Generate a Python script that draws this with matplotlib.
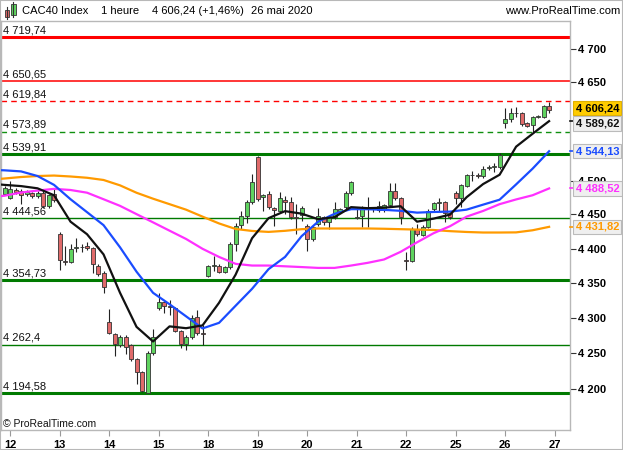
import matplotlib
matplotlib.use("Agg")
import matplotlib.pyplot as plt
from matplotlib.patches import Rectangle
from matplotlib.lines import Line2D
from matplotlib.ticker import NullLocator

plt.rcParams['font.family'] = ['Liberation Sans', 'DejaVu Sans']

W, H = 623, 450

# CAC40, hourly candles, 11 May (last hour) to 26 May 2020
days = ['12', '13', '14', '15', '18', '19', '20', '21', '22', '25', '26', '27']
bars_per_day = 9
first_day_bar = 1

opens = [4479.9, 4474.0, 4485.7, 4484.7, 4481.0, 4481.3, 4476.9, 4481.3, 4462.2, 4481.0,
         4421.0, 4382.0, 4380.8, 4401.5, 4402.5, 4403.8, 4400.4, 4374.3, 4364.6,
         4294.6, 4277.1, 4261.7, 4273.6, 4261.7, 4242.7, 4223.9, 4194.6, 4250.3,
         4314.2, 4322.8, 4317.5, 4314.2, 4281.8, 4263.2, 4273.6, 4301.8, 4279.0,
         4359.6, 4375.0, 4375.4, 4366.1, 4373.5, 4407.3, 4434.7, 4448.0, 4467.7,
         4535.2, 4476.5, 4481.0, 4459.1, 4454.6, 4471.5, 4468.5, 4446.0, 4448.5,
         4433.3, 4413.7, 4435.8, 4445.6, 4438.3, 4445.6, 4455.5, 4460.5, 4481.3,
         4444.6, 4447.1, 4459.0, 4458.0, 4456.5, 4457.0, 4463.9, 4484.7, 4473.6,
         4383.5, 4381.7, 4428.4, 4420.0, 4431.8, 4457.9, 4467.0, 4467.7, 4451.5,
         4482.3, 4474.0, 4492.3, 4508.0, 4509.2, 4506.7, 4519.0, 4521.0, 4519.9,
         4586.4, 4592.9, 4601.5, 4601.5, 4586.4, 4583.8, 4596.0, 4596.3, 4612.9]
highs = [4491.6, 4498.9, 4488.7, 4487.2, 4486.0, 4483.0, 4485.0, 4484.0, 4480.0, 4488.7,
         4424.4, 4403.4, 4406.3, 4415.1, 4406.0, 4409.2, 4402.0, 4377.0, 4367.0,
         4313.2, 4279.0, 4276.0, 4276.0, 4263.0, 4244.0, 4226.0, 4254.0, 4284.6,
         4336.1, 4325.0, 4326.1, 4316.0, 4283.0, 4276.0, 4304.6, 4311.8, 4290.4,
         4376.0, 4389.1, 4378.0, 4375.0, 4410.0, 4437.2, 4454.9, 4472.0, 4510.2,
         4536.3, 4481.0, 4484.3, 4461.0, 4483.9, 4476.9, 4475.5, 4465.2, 4462.0,
         4436.0, 4434.0, 4459.3, 4448.0, 4448.0, 4468.1, 4460.0, 4485.0, 4500.0,
         4460.5, 4462.0, 4475.5, 4461.0, 4470.3, 4466.0, 4496.0, 4497.0, 4476.0,
         4394.5, 4431.0, 4435.8, 4434.0, 4458.0, 4469.1, 4475.0, 4470.0, 4454.0,
         4485.0, 4495.0, 4510.2, 4515.0, 4512.0, 4522.4, 4523.0, 4526.4, 4541.0,
         4609.0, 4610.0, 4611.0, 4603.0, 4588.0, 4598.0, 4599.0, 4614.5, 4618.1]
lows = [4478.4, 4472.5, 4480.0, 4465.2, 4478.0, 4475.0, 4474.0, 4460.0, 4460.0, 4469.0,
        4369.5, 4376.8, 4379.8, 4394.5, 4395.0, 4397.5, 4365.1, 4361.0, 4335.7,
        4277.5, 4246.0, 4259.0, 4248.9, 4240.0, 4207.4, 4196.0, 4194.58, 4248.0,
        4311.8, 4307.5, 4304.6, 4280.0, 4257.5, 4254.6, 4271.0, 4276.0, 4261.7,
        4358.7, 4367.0, 4364.0, 4364.0, 4371.0, 4396.0, 4428.4, 4437.2, 4465.0,
        4470.0, 4455.4, 4458.0, 4433.3, 4452.0, 4450.5, 4443.0, 4421.0, 4440.0,
        4396.4, 4411.0, 4433.0, 4435.0, 4428.4, 4443.0, 4453.0, 4458.0, 4479.0,
        4443.0, 4430.9, 4431.3, 4454.0, 4454.0, 4454.0, 4462.0, 4471.0, 4435.8,
        4369.5, 4380.0, 4419.0, 4418.0, 4430.0, 4455.0, 4454.6, 4438.3, 4443.0,
        4465.2, 4460.5, 4490.0, 4499.0, 4504.0, 4504.0, 4516.0, 4513.0, 4518.0,
        4578.8, 4587.9, 4596.0, 4583.0, 4581.0, 4572.8, 4594.0, 4594.0, 4601.5]
closes = [4489.7, 4487.2, 4482.8, 4478.4, 4483.5, 4477.4, 4482.3, 4462.2, 4478.4, 4471.5,
          4383.2, 4380.5, 4398.9, 4402.5, 4401.9, 4400.4, 4377.9, 4363.1, 4344.3,
          4278.9, 4262.8, 4273.6, 4258.5, 4242.7, 4223.9, 4198.1, 4250.7, 4272.5,
          4322.8, 4316.5, 4315.4, 4281.8, 4263.2, 4273.6, 4299.9, 4278.5, 4278.0,
          4374.3, 4375.6, 4366.1, 4372.9, 4407.3, 4433.3, 4448.0, 4469.1, 4498.5,
          4472.5, 4478.8, 4460.5, 4456.5, 4473.6, 4469.1, 4445.6, 4445.0, 4459.1,
          4413.7, 4430.9, 4447.1, 4438.3, 4445.6, 4457.9, 4457.9, 4482.3, 4497.9,
          4446.0, 4459.1, 4458.0, 4457.5, 4462.4, 4463.9, 4484.7, 4473.6, 4445.6,
          4382.7, 4428.4, 4421.0, 4431.8, 4455.4, 4466.2, 4468.0, 4451.5, 4445.6,
          4474.0, 4493.0, 4508.2, 4509.0, 4506.7, 4518.0, 4520.0, 4521.5, 4538.5,
          4592.9, 4601.5, 4602.0, 4584.8, 4582.7, 4596.3, 4596.8, 4612.9, 4606.24]

# moving averages read every 3 bars
ma_idx = [-1] + list(range(0, 100, 3))
ma_black = [4494.5, 4493.8, 4492.0, 4488.7, 4478.4, 4439.4, 4421.0, 4391.6, 4336.1, 4287.5,
            4266.8, 4288.2, 4285.6, 4289.6, 4321.8, 4362.1, 4415.1, 4444.6, 4454.9, 4451.2,
            4443.1, 4446.1, 4460.8, 4459.3, 4460.0, 4462.2, 4439.4, 4443.9, 4449.8, 4475.5,
            4495.0, 4508.9, 4551.0, 4570.5, 4589.62]
ma_blue = [4515.8, 4515.5, 4513.9, 4507.0, 4493.8, 4472.5, 4453.4, 4434.3, 4401.9, 4366.5,
           4336.1, 4319.7, 4302.5, 4285.3, 4293.2, 4317.5, 4341.8, 4370.2, 4387.9, 4418.1,
           4439.4, 4451.0, 4457.8, 4457.8, 4456.8, 4455.4, 4452.7, 4453.7, 4454.2, 4457.1,
           4464.5, 4471.8, 4494.5, 4518.0, 4544.13]
ma_magenta = [4476.9, 4477.7, 4482.5, 4485.3, 4487.9, 4486.2, 4482.2, 4472.5, 4462.7, 4450.5,
              4438.4, 4426.2, 4414.1, 4399.7, 4387.9, 4377.9, 4375.4, 4375.4, 4374.3, 4373.2,
              4372.0, 4372.0, 4375.4, 4379.3, 4384.2, 4395.3, 4409.2, 4422.5, 4432.8, 4446.8,
              4455.2, 4465.2, 4472.2, 4478.4, 4488.52]
ma_orange = [4502.6, 4503.3, 4505.5, 4507.0, 4507.7, 4506.3, 4504.4, 4501.1, 4493.1, 4482.1,
             4473.3, 4465.2, 4457.1, 4446.8, 4436.8, 4428.7, 4425.8, 4424.4, 4426.0, 4428.4,
             4429.4, 4429.4, 4429.4, 4429.4, 4429.0, 4428.4, 4427.8, 4427.2, 4425.5, 4424.3,
             4423.5, 4423.5, 4423.7, 4426.8, 4431.82]

levels = [4719.74, 4650.65, 4619.84, 4573.89, 4539.91, 4444.56, 4354.73, 4262.4, 4194.58]
level_colors = ['#ff0000', '#ff0000', '#ff0000', '#109010', '#007a00', '#007a00', '#007a00', '#007a00', '#007a00']
level_styles = ['-', '-', (0, (4, 3)), (0, (4, 3)), '-', '-', '-', '-', '-']
level_widths = [2.2, 1.1, 1.0, 1.0, 2.2, 1.0, 2.2, 1.0, 2.2]

# price ticks shown on the right (4550 and 4600 sit under the value boxes)
yticks = [4200, 4250, 4300, 4350, 4400, 4450, 4500, 4650, 4700]

up_col = '#5fd35f'
down_col = '#e06a6a'


def fr(v, strip=False):
    s = f"{v:,.2f}".replace(',', ' ').replace('.', ',')
    if strip and s.endswith('0'):
        s = s[:-1]
    return s


fig = plt.figure(figsize=(W / 100, H / 100), dpi=100)
ax = fig.add_axes([1 / W, 1 - 430 / H, 569 / W, 409 / H])
ax.set_yscale('log')
ax.set_ylim(4143.6, 4744.3)
ax.set_xlim(-0.64, 102.8)

# level lines + left labels
for lv, c, ls, lw in zip(levels, level_colors, level_styles, level_widths):
    ax.axhline(lv, color=c, ls=ls, lw=lw, zorder=2)
    ax.annotate(fr(lv, strip=True), xy=(2 / 569, lv), xycoords=('axes fraction', 'data'),
                xytext=(0, 1.2), textcoords='offset points', ha='left', va='bottom',
                fontsize=8, color='#111111', zorder=2)

# candles
n = len(opens)
xs = list(range(n))
ax.vlines(xs, lows, highs, color='#222222', lw=0.8, zorder=3)
bottoms = [min(o, c) for o, c in zip(opens, closes)]
heights = [max(abs(c - o), 0.4) for o, c in zip(opens, closes)]
cols = [up_col if c >= o else down_col for o, c in zip(opens, closes)]
ax.bar(xs, heights, bottom=bottoms, width=0.72, color=cols, edgecolor='#333333', lw=0.6, zorder=4)

# moving averages
ax.plot(ma_idx, ma_orange, color='#ff9a00', lw=1.6, zorder=5)
ax.plot(ma_idx, ma_magenta, color='#ff30ff', lw=1.6, zorder=5)
ax.plot(ma_idx, ma_blue, color='#1a4cff', lw=1.6, zorder=5)
ax.plot(ma_idx, ma_black, color='#111111', lw=1.6, zorder=5)

# axes styling
for s in ax.spines.values():
    s.set_color('#b8b8b8')
    s.set_linewidth(1.0)

ax.yaxis.tick_right()
ax.set_yticks(yticks)
ax.set_yticklabels([fr(t)[:-3] for t in yticks])
ax.yaxis.set_minor_locator(NullLocator())
ax.tick_params(axis='y', direction='out', length=4, width=0.8, color='#333333', pad=2, labelsize=8)
for t in ax.get_yticklabels():
    t.set_fontweight('bold')

day_pos = [first_day_bar + k * bars_per_day for k in range(len(days))]
ax.set_xticks(day_pos)
ax.set_xticklabels(days)
ax.tick_params(axis='x', direction='out', length=4, width=0.8, color='#999999', pad=3, labelsize=8)
for t in ax.get_xticklabels():
    t.set_fontweight('bold')

# right value boxes
ytr = ax.get_yaxis_transform()


def value_box(val, dy, fc, tc, ec, mark=None):
    if mark:
        ax.add_line(Line2D([1.0, 1.009], [val, val], transform=ytr, color=mark, lw=1.2,
                           clip_on=False, zorder=6))
    ax.annotate(fr(val), xy=(1, val), xycoords=('axes fraction', 'data'),
                xytext=(4.0, dy), textcoords='offset points', ha='left', va='center',
                fontsize=8, fontweight='bold', color=tc, annotation_clip=False, zorder=7,
                bbox=dict(boxstyle='square,pad=0.2', fc=fc, ec=ec, lw=0.8))


value_box(closes[-1], 1.5, '#ffcc00', '#000000', '#e0b000')
value_box(ma_black[-1], -1.8, '#efefef', '#111111', '#bbbbbb', '#111111')
value_box(ma_blue[-1], 0, '#efefef', '#1a4cff', '#bbbbbb', '#1a4cff')
value_box(ma_magenta[-1], 0, '#efefef', '#ff30ff', '#bbbbbb', '#ff30ff')
value_box(ma_orange[-1], 0, '#efefef', '#ff9a00', '#bbbbbb', '#ff9a00')

# header
hy = 1 - 11 / H
fig.text(22 / W, hy, 'CAC40 Index', fontsize=8, va='center')
fig.text(101 / W, hy, '1 heure', fontsize=8, va='center')
fig.text(152 / W, hy, fr(closes[-1]) + ' (+1,46%)', fontsize=8, va='center')
fig.text(251 / W, hy, '26 mai 2020', fontsize=8, va='center')
fig.text(620 / W, hy, 'www.ProRealTime.com', fontsize=8, va='center', ha='right')


def px_rect(x0, y0, w, h, fc):
    fig.add_artist(Rectangle((x0 / W, 1 - (y0 + h) / H), w / W, h / H, transform=fig.transFigure,
                             fc=fc, ec='#333333', lw=0.6))


fig.add_artist(Line2D([7 / W, 7 / W], [1 - 19 / H, 1 - 7 / H], transform=fig.transFigure, color='#333333', lw=0.8))
px_rect(5, 10, 4, 7, down_col)
fig.add_artist(Line2D([13 / W, 13 / W], [1 - 17 / H, 1 - 2 / H], transform=fig.transFigure, color='#333333', lw=0.8))
px_rect(11, 4, 5, 11, up_col)

fig.text(3 / W, 1 - 424 / H, '\u00a9 ProRealTime.com', fontsize=7.5, va='center', color='#111111')

fig.add_artist(Rectangle((0, 0), 1, 1, transform=fig.transFigure, fill=False, ec='#b8b8b8', lw=1.5))

fig.savefig('out.png', dpi=100)
